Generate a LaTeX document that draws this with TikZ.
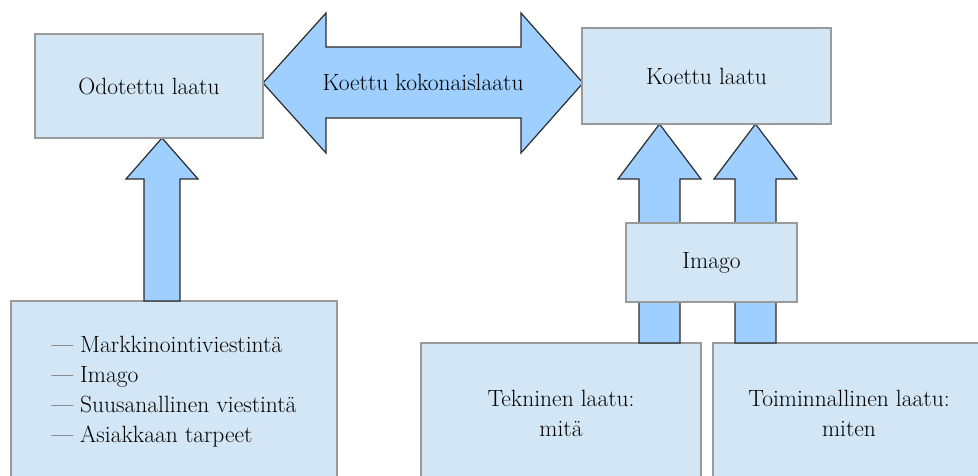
\documentclass[tikz,border=0pt]{standalone}
\usepackage{fontspec}
\definecolor{boxfill}{HTML}{D2E6F5}
\definecolor{boxline}{HTML}{9A9A9A}
\definecolor{arrfill}{HTML}{9FCFFF}
\definecolor{arrline}{HTML}{2B2B2B}
\begin{document}
\begin{tikzpicture}[x=1pt,y=-1pt,
  box/.style={draw=boxline, fill=boxfill, line width=1.3pt, inner sep=0pt,
    font=\rmfamily\fontsize{23.5}{30}\selectfont},
  blockarrow/.style={draw=arrline, fill=arrfill, line width=1.2pt, line join=miter},
  lbl/.style={inner sep=0pt, font=\rmfamily\fontsize{23.5}{30}\selectfont}]
\useasboundingbox (0,0) rectangle (978,476);
\clip (0,0) rectangle (978,476);
% lower boxes
\node[box, minimum width=326pt, minimum height=182pt, align=left] (sources) at (174,392)
  {— Markkinointiviestintä\\— Imago\\— Suusanallinen viestintä\\— Asiakkaan tarpeet};
\node[box, minimum width=280pt, minimum height=140pt, align=center] (tekn) at (561,413)
  {Tekninen laatu:\\mitä};
\node[box, minimum width=272pt, minimum height=140pt, align=center] (toim) at (849,413)
  {Toiminnallinen laatu:\\miten};
% block arrows
\draw[blockarrow] (263,83) -- (326,13) -- (326,47) -- (521,47) -- (521,13) -- (583,83)
  -- (521,153) -- (521,118) -- (326,118) -- (326,153) -- cycle;
\node[lbl] (kok) at (423,82) {Koettu kokonaislaatu};
\draw[blockarrow] (162,138) -- (198,179) -- (180,179) -- (180,301) -- (144,301)
  -- (144,179) -- (126,179) -- cycle;
\draw[blockarrow] (659.5,124) -- (701,179) -- (680,179) -- (680,343) -- (639,343)
  -- (639,179) -- (618,179) -- cycle;
\draw[blockarrow] (755.5,124) -- (797,179) -- (776,179) -- (776,343) -- (735,343)
  -- (735,179) -- (714,179) -- cycle;
% upper boxes
\node[box, minimum width=171pt, minimum height=79pt] (imago) at (711.5,262.5) {Imago};
\node[box, minimum width=228pt, minimum height=104pt] (odot) at (149,86) {Odotettu laatu};
\node[box, minimum width=249pt, minimum height=96pt] (koettu) at (706.5,76) {Koettu laatu};
\end{tikzpicture}
\end{document}
